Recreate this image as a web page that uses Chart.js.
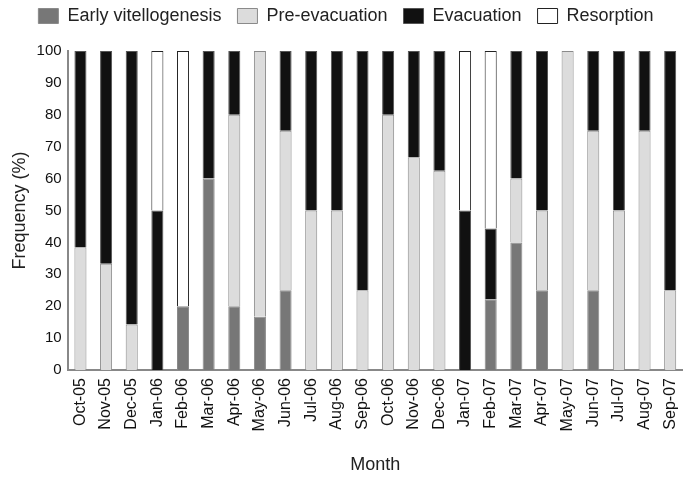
<!DOCTYPE html>
<html>
<head>
<meta charset="utf-8">
<script src="https://cdn.jsdelivr.net/npm/chart.js@4"></script>
<style>
  html, body { margin: 0; padding: 0; background: #fff; }
  #wrap { width: 683px; height: 479px; }
</style>
</head>
<body>
<div id="wrap"><canvas id="chart"></canvas></div>
<script>
const months = ["Oct-05", "Nov-05", "Dec-05", "Jan-06", "Feb-06", "Mar-06", "Apr-06", "May-06",
    "Jun-06", "Jul-06", "Aug-06", "Sep-06", "Oct-06", "Nov-06", "Dec-06", "Jan-07", "Feb-07",
    "Mar-07", "Apr-07", "May-07", "Jun-07", "Jul-07", "Aug-07", "Sep-07"];
const earlyVitellogenesis = [0, 0, 0, 0, 20, 60, 20, 16.7, 25, 0, 0, 0, 0, 0, 0, 0, 22.2, 40, 25, 0, 25, 0, 0, 0];
const preEvacuation = [38.5, 33.3, 14.3, 0, 0, 0, 60, 83.3, 50, 50, 50, 25, 80, 66.7, 62.5, 0, 0, 20, 25, 100, 50, 50, 75, 25];
const evacuation = [61.5, 66.7, 85.7, 50, 0, 40, 20, 0, 25, 50, 50, 75, 20, 33.3, 37.5, 50, 22.2, 40, 50, 0, 25, 50, 25, 75];
const resorption = [0, 0, 0, 50, 80, 0, 0, 0, 0, 0, 0, 0, 0, 0, 0, 50, 55.6, 0, 0, 0, 0, 0, 0, 0];
const yTicks = [0, 10, 20, 30, 40, 50, 60, 70, 80, 90, 100];

const font = "'Liberation Sans', Arial, sans-serif";
const bar = (label, data, fill, border) => ({
    label, data,
    backgroundColor: fill,
    borderColor: border,
    borderWidth: 1,
    barPercentage: 0.47,
    categoryPercentage: 1
});

// extra room under the legend
const legendGap = {
    id: "legendGap",
    beforeInit(chart) {
        const fit = chart.legend.fit;
        chart.legend.fit = function () {
            fit.bind(chart.legend)();
            this.height += 16;
        };
    }
};

new Chart(document.getElementById("chart"), {
    type: "bar",
    data: {
        labels: months,
        datasets: [
            bar("Early vitellogenesis", earlyVitellogenesis, "#777777", "#8a8a8a"),
            bar("Pre-evacuation", preEvacuation, "#dcdcdc", "#8a8a8a"),
            bar("Evacuation", evacuation, "#111111", "#555555"),
            bar("Resorption", resorption, "#ffffff", "#222222")
        ]
    },
    plugins: [legendGap],
    options: {
        responsive: true,
        maintainAspectRatio: false,
        animation: false,
        layout: { padding: { left: 9, right: 0, top: -9, bottom: 3 } },
        plugins: {
            legend: {
                position: "top",
                align: "center",
                labels: {
                    font: { family: font, size: 18 },
                    color: "#222",
                    boxWidth: 20,
                    boxHeight: 15,
                    padding: 16
                }
            },
            tooltip: { enabled: false }
        },
        scales: {
            x: {
                stacked: true,
                afterFit: scale => { scale.paddingLeft = 0; scale.paddingRight = 0; },
                grid: { display: false, drawTicks: true, offset: true, tickLength: 5, color: "#888" },
                border: { color: "#888", width: 2 },
                ticks: {
                    font: { family: font, size: 16 },
                    color: "#111",
                    minRotation: 90,
                    maxRotation: 90,
                    autoSkip: false,
                    padding: 3
                },
                title: {
                    display: true,
                    text: "Month",
                    font: { family: font, size: 18 },
                    color: "#222",
                    padding: { top: 20, bottom: 0 }
                }
            },
            y: {
                stacked: true,
                min: 0,
                max: 100,
                afterBuildTicks: axis => { axis.ticks = yTicks.map(v => ({ value: v })); },
                grid: { display: false, drawTicks: true, tickLength: 4, color: "#888" },
                border: { color: "#888", width: 2 },
                ticks: {
                    font: { family: font, size: 15 },
                    color: "#111",
                    padding: 2
                },
                title: {
                    display: true,
                    text: "Frequency (%)",
                    font: { family: font, size: 18 },
                    color: "#222",
                    padding: { top: 0, bottom: 4 }
                }
            }
        }
    }
});
</script>
</body>
</html>
